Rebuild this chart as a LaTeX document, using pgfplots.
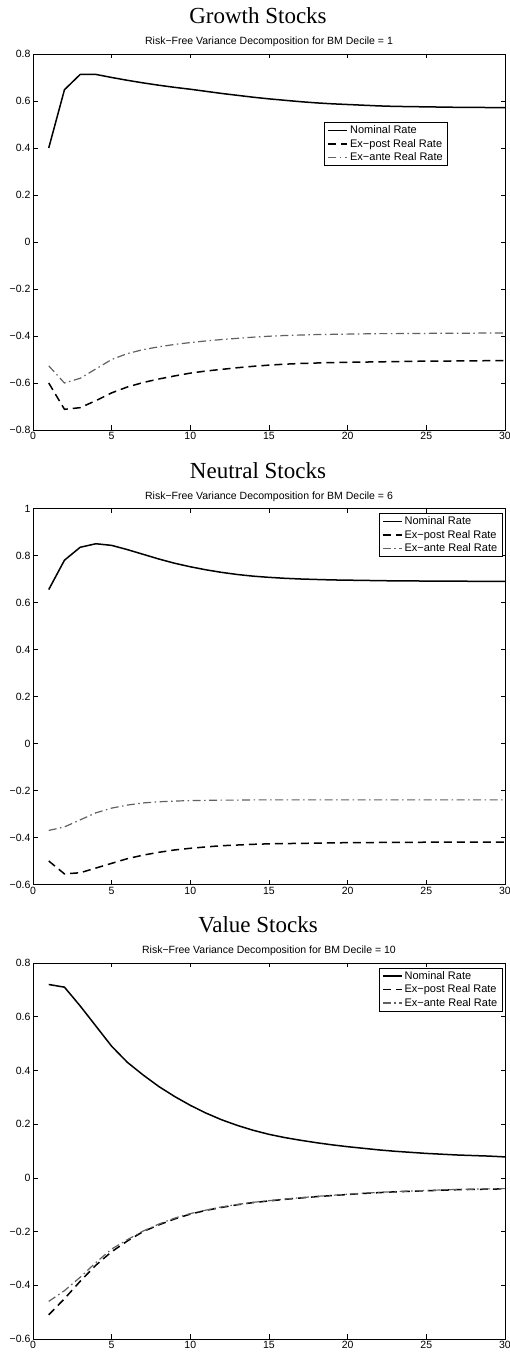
\documentclass[border=0pt]{standalone}
\usepackage{fontspec}
\setmainfont{Liberation Sans}
\newfontfamily\titlefont{Liberation Serif}
\usepackage{pgfplots}
\pgfplotsset{compat=1.18}
\definecolor{anteg}{gray}{0.38}
\pgfplotsset{
  panel/.style={
    scale only axis, width=472pt, height=376pt, anchor=south west,
    xmin=0, xmax=30, xtick={0,5,10,15,20,25,30},
    xtick pos=both, ytick pos=both, tick align=inside,
    major tick length=4.5pt,
    axis line style={line width=0.9pt},
    every tick/.style={black, line width=0.5pt},
    tick label style={font=\fontsize{10.5}{12}\selectfont},
    xticklabel style={yshift=1pt},
    yticklabel style={xshift=1pt},
    /pgf/number format/assume math mode=true,
    every axis title/.style={font=\fontsize{10.5}{12}\selectfont, at={(0.5,1)}, anchor=base, yshift=9pt},
    legend style={font=\fontsize{11}{11.5}\selectfont, draw=black, line width=0.8pt,
      inner xsep=3pt, inner ysep=1.5pt, row sep=0pt, cells={anchor=west}},
    legend cell align=left,
    legend image code/.code={\draw[#1] (0pt,0pt) -- (19pt,0pt);},
  },
  nom/.style={black, line width=1.5pt},
  post/.style={black, line width=1.5pt, dash pattern=on 8pt off 5pt},
  ante/.style={anteg, line width=1.2pt, dash pattern=on 8pt off 3.5pt on 1.5pt off 3.5pt},
}
\begin{document}
\begin{tikzpicture}
% ---------- Panel 1 ----------
\begin{axis}[panel, at={(33pt,925pt)},
  ymin=-0.8, ymax=0.8,
  ytick={-0.8,-0.6,-0.4,-0.2,0,0.2,0.4,0.6,0.8},
  yticklabels={−0.8,−0.6,−0.4,−0.2,0,0.2,0.4,0.6,0.8},
  title={Risk−Free Variance Decomposition for BM Decile = 1},
  legend style={at={(0.617,0.82)}, anchor=north west}]
\addplot[nom] coordinates {(1,0.40)(2,0.648)(3,0.713)(4,0.713)(5,0.70)(6,0.688)(7,0.677)(8,0.667)(9,0.658)(10,0.65)(11,0.641)(12,0.632)(13,0.624)(14,0.616)(15,0.609)(16,0.603)(17,0.597)(18,0.592)(19,0.588)(20,0.585)(21,0.582)(22,0.579)(23,0.577)(24,0.576)(25,0.575)(26,0.574)(27,0.573)(28,0.573)(29,0.572)(30,0.572)};
\addplot[post] coordinates {(1,-0.60)(2,-0.712)(3,-0.705)(4,-0.675)(5,-0.642)(6,-0.617)(7,-0.598)(8,-0.583)(9,-0.57)(10,-0.558)(11,-0.549)(12,-0.542)(13,-0.535)(14,-0.529)(15,-0.524)(16,-0.52)(17,-0.517)(18,-0.515)(19,-0.513)(20,-0.512)(21,-0.511)(22,-0.51)(23,-0.509)(24,-0.508)(25,-0.507)(26,-0.507)(27,-0.506)(28,-0.506)(29,-0.505)(30,-0.505)};
\addplot[ante] coordinates {(1,-0.527)(2,-0.60)(3,-0.58)(4,-0.54)(5,-0.50)(6,-0.475)(7,-0.458)(8,-0.446)(9,-0.436)(10,-0.428)(11,-0.421)(12,-0.415)(13,-0.41)(14,-0.405)(15,-0.401)(16,-0.398)(17,-0.396)(18,-0.394)(19,-0.393)(20,-0.392)(21,-0.391)(22,-0.39)(23,-0.39)(24,-0.389)(25,-0.389)(26,-0.388)(27,-0.388)(28,-0.388)(29,-0.387)(30,-0.387)};
\legend{Nominal Rate, Ex−post Real Rate, Ex−ante Real Rate}
\end{axis}
% ---------- Panel 2 ----------
\begin{axis}[panel, at={(33pt,470.5pt)},
  ymin=-0.6, ymax=1,
  ytick={-0.6,-0.4,-0.2,0,0.2,0.4,0.6,0.8,1},
  yticklabels={−0.6,−0.4,−0.2,0,0.2,0.4,0.6,0.8,1},
  title={Risk−Free Variance Decomposition for BM Decile = 6},
  legend style={at={(0.995,0.988)}, anchor=north east}]
\addplot[nom] coordinates {(1,0.655)(2,0.78)(3,0.835)(4,0.85)(5,0.843)(6,0.825)(7,0.805)(8,0.785)(9,0.767)(10,0.752)(11,0.739)(12,0.728)(13,0.719)(14,0.712)(15,0.707)(16,0.703)(17,0.70)(18,0.698)(19,0.696)(20,0.695)(21,0.694)(22,0.693)(23,0.692)(24,0.692)(25,0.691)(26,0.691)(27,0.691)(28,0.690)(29,0.690)(30,0.690)};
\addplot[post] coordinates {(1,-0.50)(2,-0.555)(3,-0.55)(4,-0.53)(5,-0.51)(6,-0.49)(7,-0.475)(8,-0.463)(9,-0.453)(10,-0.446)(11,-0.44)(12,-0.435)(13,-0.432)(14,-0.429)(15,-0.427)(16,-0.426)(17,-0.425)(18,-0.424)(19,-0.423)(20,-0.422)(21,-0.422)(22,-0.421)(23,-0.421)(24,-0.421)(25,-0.42)(26,-0.42)(27,-0.42)(28,-0.42)(29,-0.42)(30,-0.42)};
\addplot[ante] coordinates {(1,-0.37)(2,-0.355)(3,-0.325)(4,-0.295)(5,-0.275)(6,-0.262)(7,-0.253)(8,-0.248)(9,-0.245)(10,-0.243)(11,-0.242)(12,-0.241)(13,-0.241)(14,-0.24)(15,-0.24)(16,-0.24)(17,-0.24)(18,-0.24)(19,-0.24)(20,-0.24)(21,-0.24)(22,-0.24)(23,-0.24)(24,-0.24)(25,-0.24)(26,-0.24)(27,-0.24)(28,-0.24)(29,-0.24)(30,-0.24)};
\legend{Nominal Rate, Ex−post Real Rate, Ex−ante Real Rate}
\end{axis}
% ---------- Panel 3 ----------
\begin{axis}[panel, at={(33pt,16pt)},
  ymin=-0.6, ymax=0.8,
  ytick={-0.6,-0.4,-0.2,0,0.2,0.4,0.6,0.8},
  yticklabels={−0.6,−0.4,−0.2,0,0.2,0.4,0.6,0.8},
  title={Risk−Free Variance Decomposition for BM Decile = 10},
  legend style={at={(0.995,0.988)}, anchor=north east}]
\addplot[nom] coordinates {(1,0.72)(2,0.71)(3,0.64)(4,0.565)(5,0.49)(6,0.43)(7,0.383)(8,0.340)(9,0.303)(10,0.270)(11,0.241)(12,0.216)(13,0.195)(14,0.177)(15,0.162)(16,0.150)(17,0.140)(18,0.131)(19,0.123)(20,0.116)(21,0.110)(22,0.104)(23,0.099)(24,0.095)(25,0.091)(26,0.088)(27,0.085)(28,0.083)(29,0.081)(30,0.078)};
\addplot[post] coordinates {(1,-0.51)(2,-0.45)(3,-0.385)(4,-0.325)(5,-0.275)(6,-0.235)(7,-0.20)(8,-0.175)(9,-0.153)(10,-0.135)(11,-0.121)(12,-0.11)(13,-0.10)(14,-0.092)(15,-0.086)(16,-0.08)(17,-0.075)(18,-0.07)(19,-0.066)(20,-0.062)(21,-0.058)(22,-0.055)(23,-0.052)(24,-0.05)(25,-0.048)(26,-0.046)(27,-0.044)(28,-0.043)(29,-0.042)(30,-0.041)};
\addplot[ante] coordinates {(1,-0.46)(2,-0.42)(3,-0.37)(4,-0.315)(5,-0.265)(6,-0.23)(7,-0.198)(8,-0.172)(9,-0.15)(10,-0.133)(11,-0.12)(12,-0.108)(13,-0.099)(14,-0.091)(15,-0.085)(16,-0.079)(17,-0.074)(18,-0.069)(19,-0.065)(20,-0.061)(21,-0.057)(22,-0.054)(23,-0.051)(24,-0.049)(25,-0.047)(26,-0.045)(27,-0.043)(28,-0.042)(29,-0.041)(30,-0.040)};
\legend{Nominal Rate, Ex−post Real Rate, Ex−ante Real Rate}
\end{axis}
% ---------- main titles ----------
\node[font=\titlefont\fontsize{23}{26}\selectfont] at (258pt,1339pt) {Growth Stocks};
\node[font=\titlefont\fontsize{23}{26}\selectfont] at (258pt,884.5pt) {Neutral Stocks};
\node[font=\titlefont\fontsize{23}{26}\selectfont] at (258pt,430pt) {Value Stocks};
\pgfresetboundingbox
\path[use as bounding box] (0,0) rectangle (510pt,1355pt);
\end{tikzpicture}
\end{document}
